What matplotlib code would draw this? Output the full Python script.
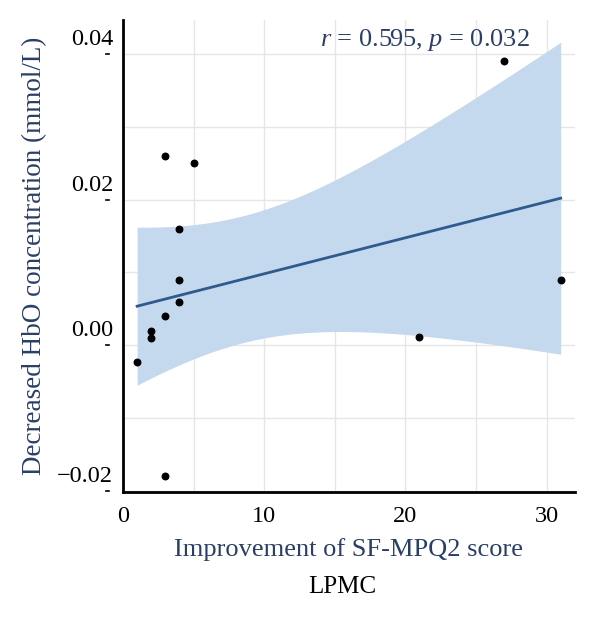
import numpy as np
import matplotlib
matplotlib.use("Agg")
import matplotlib.pyplot as plt
import matplotlib.transforms as mtransforms

# data
sf_mpq2 = [1, 2, 2, 3, 3, 3, 4, 4, 4, 5, 21, 27, 31]
hbo_drop = [-0.0023, 0.001, 0.002, 0.026, 0.004, -0.018, 0.016, 0.009, 0.006, 0.025, 0.0011, 0.039, 0.009]
stat_text = r"$r$ = 0.595, $p$ = 0.032"
x_ticks = [0, 10, 20, 30]
y_ticks = [-0.02, 0.00, 0.02, 0.04]
y_ticklabels = ['\u22120.02', '0.00', '0.02', '0.04']

plt.rcParams['font.family'] = ['Liberation Serif', 'DejaVu Serif']
plt.rcParams['mathtext.fontset'] = 'custom'
plt.rcParams['mathtext.rm'] = 'Liberation Serif'
plt.rcParams['mathtext.it'] = 'Liberation Serif:italic'

line_col = '#2f5a8e'
band_col = '#c5d9ee'
label_col = '#2b3f66'

x = np.array(sf_mpq2, dtype=float)
y = np.array(hbo_drop)

# linear fit with 95% confidence band
n = len(x)
slope, icpt = np.polyfit(x, y, 1)
xs = np.linspace(x.min(), x.max(), 200)
fit = icpt + slope * xs
resid = y - (icpt + slope * x)
s = np.sqrt(np.sum(resid ** 2) / (n - 2))
sxx = np.sum((x - x.mean()) ** 2)
t_crit = 2.201  # t(0.975, df=11)
se = s * np.sqrt(1.0 / n + (xs - x.mean()) ** 2 / sxx)

fig = plt.figure(figsize=(6, 6.17), dpi=100)
ax = fig.add_axes([0.205, 0.203, 0.753, 0.765])

ax.fill_between(xs, fit - t_crit * se, fit + t_crit * se, color=band_col, lw=0, zorder=1)
ax.plot(xs, fit, color=line_col, lw=2, zorder=2)
ax.scatter(x, y, s=22, color='black', zorder=3)

ax.set_xlim(0, 32)
ax.set_ylim(-0.0201, 0.0447)
ax.set_xticks(x_ticks)
ax.set_yticks(y_ticks)
ax.set_yticklabels(y_ticklabels)
ax.set_xticks(np.arange(0, 33, 5), minor=True)
ax.set_yticks(np.arange(-0.02, 0.045, 0.01), minor=True)
ax.grid(True, which='both', color='#e6e6e6', lw=1, zorder=0)
ax.set_axisbelow(True)

for side in ['top', 'right']:
    ax.spines[side].set_visible(False)
for side in ['left', 'bottom']:
    ax.spines[side].set_linewidth(2)

ax.tick_params(which='both', length=0, labelsize=17.5, colors='black')
ax.tick_params(axis='y', pad=7)
ax.tick_params(axis='x', pad=10)

# y tick labels sit above their gridline, with a tiny dash left at the tick
shift = mtransforms.ScaledTranslation(0, 17 / 100, fig.dpi_scale_trans)
for lab in ax.get_yticklabels():
    lab.set_transform(lab.get_transform() + shift)
dash_tr = mtransforms.blended_transform_factory(ax.transAxes, ax.transData)
for yt in y_ticks:
    ax.plot([-0.037, -0.032], [yt, yt], color='black', lw=1.2,
            transform=dash_tr, clip_on=False)

ax.set_xlabel('Improvement of SF-MPQ2 score', fontsize=19, color=label_col, labelpad=8)
ax.set_ylabel('Decreased HbO concentration (mmol/L)', fontsize=19.5, color=label_col, labelpad=7)

ax.text(0.90, 0.985, stat_text, transform=ax.transAxes, ha='right', va='top',
        fontsize=19, color=label_col)

fig.text(0.57, 0.048, 'LPMC', ha='center', va='center', fontsize=18)

fig.savefig('out.png', dpi=100)
